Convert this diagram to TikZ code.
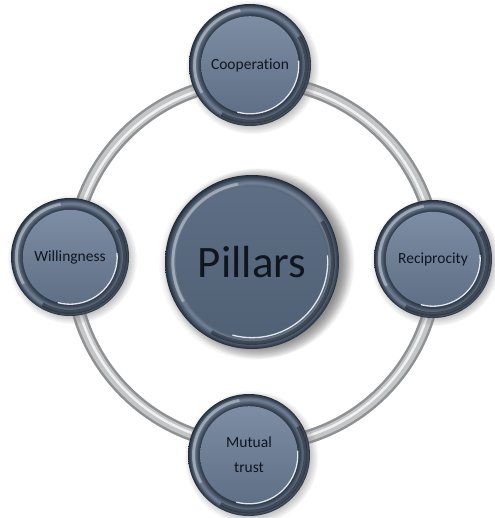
\documentclass[tikz,border=0pt]{standalone}
\usepackage{fontspec}
\setmainfont{Carlito}[Ligatures=NoCommon]
\usetikzlibrary{shadows}

\definecolor{ink}{HTML}{10161F}
\definecolor{facetop}{HTML}{7D8DA3}
\definecolor{facebot}{HTML}{5F7086}
\definecolor{hubtop}{HTML}{5E6F85}
\definecolor{hubbot}{HTML}{506176}
\definecolor{rimdark}{HTML}{222C38}
\definecolor{rimmid}{HTML}{3E4B5C}
\definecolor{rimhi}{HTML}{738398}
\definecolor{ringedge}{HTML}{8E9092}
\definecolor{ringmid}{HTML}{C3C5C7}

% dark rim with a faint band round the face
\pgfdeclareradialshading{rim}{\pgfpoint{0bp}{0bp}}{%
  color(0bp)=(rimdark); color(19.5bp)=(rimdark); color(21bp)=(rimmid);
  color(22.8bp)=(rimhi); color(24.2bp)=(rimmid); color(25bp)=(rimdark);
  color(50bp)=(rimdark)}

\tikzset{
  face top/.store in=\facetop, face top=facetop,
  face bottom/.store in=\facebot, face bottom=facebot,
  face ratio/.store in=\faceratio, face ratio=0.8,
  ring/.style={draw=ringedge, line width=14pt},
  ring core/.style={draw=ringmid, line width=9pt},
  ring shine/.style={draw=white, line width=2.5pt, opacity=.75},
  pillar/.style={circle, minimum size=2*#1pt, inner sep=0pt, align=center,
    text=ink, font=\fontsize{15.5}{19}\selectfont, shading=rim,
    circular drop shadow={shadow xshift=2pt, shadow yshift=-2pt, opacity=.5},
    path picture={
      % sheen on the upper left of the rim, shade on the lower right
      \draw[white, opacity=.35, line width=3pt]
        (path picture bounding box.center) ++(100:0.91*#1pt)
        arc[start angle=100, end angle=210, radius=0.91*#1pt];
      \draw[black, opacity=.4, line width=4pt]
        (path picture bounding box.center) ++(-120:0.93*#1pt)
        arc[start angle=-120, end angle=30, radius=0.93*#1pt];
      \shade[top color=\facetop, bottom color=\facebot]
        (path picture bounding box.center) circle[radius=\faceratio*#1pt];
      \draw[white, opacity=.85, line width=1.3pt]
        (path picture bounding box.center) ++(-105:\faceratio*#1pt)
        arc[start angle=-105, end angle=5, radius=\faceratio*#1pt];
    }},
  hub/.style={pillar=#1, face top=hubtop, face bottom=hubbot, face ratio=0.87,
    font=\fontsize{45}{50}\selectfont,
    circular drop shadow={shadow xshift=6pt, shadow yshift=-1pt, opacity=.8}},
}

\begin{document}
\begin{tikzpicture}[x=1pt, y=-1pt]
  \useasboundingbox (0,0) rectangle (494,518);
  \coordinate (centre) at (254,263);

  % the silver ring behind the pillars
  \draw[ring] (centre) circle[radius=182pt];
  \draw[ring core] (centre) circle[radius=182pt];
  \draw[ring shine] (centre) circle[radius=181pt];

  \node[hub=87] (pillars) at (252,262) {Pillars};
  \node[pillar=61] (coop) at (250,65) {Cooperation};      % top
  \node[pillar=59] (will) at (70,257) {Willingness};      % left
  \node[pillar=59] (recip) at (433,259) {Reciprocity};    % right
  \node[pillar=61] (trust) at (249,455) {Mutual\\[6pt]trust}; % bottom
\end{tikzpicture}
\end{document}
